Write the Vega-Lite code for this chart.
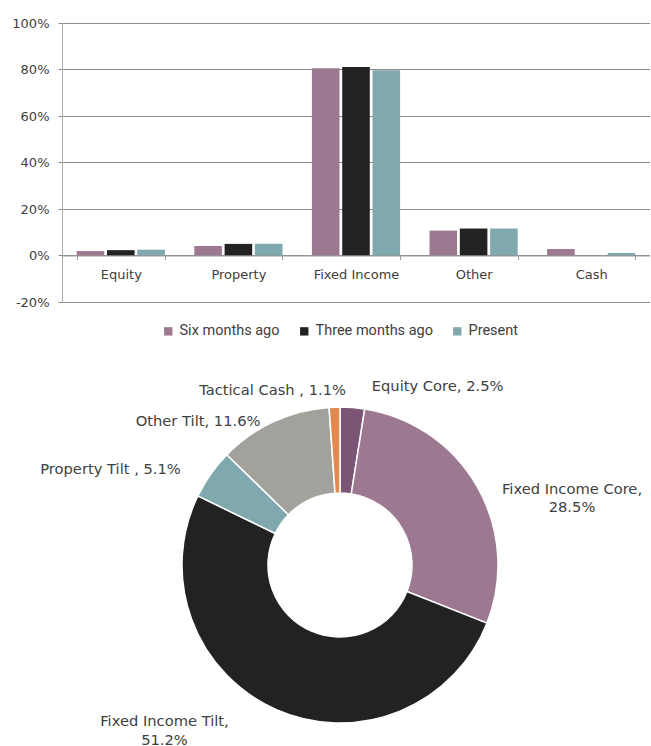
{
  "$schema": "https://vega.github.io/schema/vega-lite/v6.json",
  "padding": {"top": 17, "left": 11, "right": 0, "bottom": 0},
  "background": "white",
  "spacing": 38,
  "resolve": {"scale": {"color": "independent", "theta": "independent"}, "legend": {"color": "independent"}},
  "config": {"view": {"stroke": null}, "font": "DejaVu Sans"},
  "vconcat": [
    {
      "width": 588,
      "height": 279,
      "data": {"values": [
        {"asset": "Equity", "period": "Six months ago", "share": 0.019},
        {"asset": "Equity", "period": "Three months ago", "share": 0.023},
        {"asset": "Equity", "period": "Present", "share": 0.025},
        {"asset": "Property", "period": "Six months ago", "share": 0.041},
        {"asset": "Property", "period": "Three months ago", "share": 0.050},
        {"asset": "Property", "period": "Present", "share": 0.051},
        {"asset": "Fixed Income", "period": "Six months ago", "share": 0.805},
        {"asset": "Fixed Income", "period": "Three months ago", "share": 0.811},
        {"asset": "Fixed Income", "period": "Present", "share": 0.797},
        {"asset": "Other", "period": "Six months ago", "share": 0.107},
        {"asset": "Other", "period": "Three months ago", "share": 0.116},
        {"asset": "Other", "period": "Present", "share": 0.116},
        {"asset": "Cash", "period": "Six months ago", "share": 0.028},
        {"asset": "Cash", "period": "Three months ago", "share": 0.0},
        {"asset": "Cash", "period": "Present", "share": 0.011}
      ]},
      "mark": {"type": "bar"},
      "encoding": {
        "x": {
          "field": "asset", "type": "nominal",
          "sort": ["Equity", "Property", "Fixed Income", "Other", "Cash"],
          "scale": {"paddingInner": 0.25, "paddingOuter": 0.125},
          "axis": {"title": null, "offset": -46.5, "labelAngle": 0, "domainColor": "#999999", "tickColor": "#999999", "tickSize": 4, "tickBand": "extent", "labelPadding": 9, "labelFontSize": 13, "labelColor": "#404040", "zindex": 1}
        },
        "xOffset": {
          "field": "period", "type": "nominal",
          "sort": ["Six months ago", "Three months ago", "Present"],
          "scale": {"paddingInner": 0.09, "paddingOuter": 0}
        },
        "y": {
          "field": "share", "type": "quantitative",
          "scale": {"domain": [-0.2, 1], "nice": false},
          "axis": {"title": null, "format": ".0%", "labelExpr": "replace(datum.label, '\u2212', '-')", "values": [-0.2, 0, 0.2, 0.4, 0.6, 0.8, 1], "grid": true, "gridColor": "#8c8c8c", "domainColor": "#aaaaaa", "tickColor": "#8c8c8c", "tickSize": 4, "labelPadding": 9, "labelFontSize": 13, "labelColor": "#404040"}
        },
        "color": {
          "field": "period", "type": "nominal",
          "sort": ["Six months ago", "Three months ago", "Present"],
          "scale": {"domain": ["Six months ago", "Three months ago", "Present"], "range": ["#9c7891", "#222222", "#80a9af"]},
          "legend": {"title": null, "orient": "none", "legendX": 99, "legendY": 301, "direction": "horizontal", "symbolType": "square", "symbolSize": 70, "symbolStrokeWidth": 0, "labelFont": "Roboto", "labelFontSize": 14.5, "labelColor": "#404040", "columnPadding": 17, "labelOffset": 4}
        }
      }
    },
    {
      "width": 556,
      "height": 378,
      "data": {"values": [
        {"category": "Equity Core", "value": 2.5, "label": "Equity Core, 2.5%", "idx": 1},
        {"category": "Fixed Income Core", "value": 28.5, "label": "Fixed Income Core,\n28.5%", "idx": 2},
        {"category": "Fixed Income Tilt", "value": 51.2, "label": "Fixed Income Tilt,\n51.2%", "idx": 3},
        {"category": "Property Tilt ", "value": 5.1, "label": "Property Tilt , 5.1%", "idx": 4},
        {"category": "Other Tilt", "value": 11.6, "label": "Other Tilt, 11.6%", "idx": 5},
        {"category": "Tactical Cash ", "value": 1.1, "label": "Tactical Cash , 1.1%", "idx": 6}
      ]},
      "encoding": {
        "theta": {"field": "value", "type": "quantitative", "stack": true},
        "order": {"field": "idx", "type": "quantitative"},
        "detail": {"field": "category", "type": "nominal"}
      },
      "layer": [
        {
          "mark": {"type": "arc", "outerRadius": 158, "innerRadius": 72, "stroke": "white", "strokeWidth": 1.5},
          "encoding": {
            "color": {"field": "category", "type": "nominal",
              "scale": {"domain": ["Equity Core", "Fixed Income Core", "Fixed Income Tilt", "Property Tilt ", "Other Tilt", "Tactical Cash "], "range": ["#7b5575", "#9c7891", "#222222", "#80a9af", "#a3a19c", "#e08a4f"]},
              "legend": null}
          }
        },
        {
          "mark": {"type": "text", "radius": 175, "align": "left", "baseline": "middle", "dx": 18, "dy": -4, "font": "DejaVu Sans", "fontSize": 14.7, "fill": "#404040"},
          "encoding": {"text": {"condition": {"test": "datum.category === 'Equity Core'", "field": "label"}, "value": ""}}
        },
        {
          "mark": {"type": "text", "radius": 175, "align": "center", "baseline": "middle", "dx": 80, "dy": 12, "lineBreak": "\n", "lineHeight": 18, "font": "DejaVu Sans", "fontSize": 14.7, "fill": "#404040"},
          "encoding": {"text": {"condition": {"test": "datum.category === 'Fixed Income Core'", "field": "label"}, "value": ""}}
        },
        {
          "mark": {"type": "text", "radius": 175, "align": "center", "baseline": "middle", "dx": -105, "dy": -3, "lineBreak": "\n", "lineHeight": 19, "font": "DejaVu Sans", "fontSize": 14.7, "fill": "#404040"},
          "encoding": {"text": {"condition": {"test": "datum.category === 'Fixed Income Tilt'", "field": "label"}, "value": ""}}
        },
        {
          "mark": {"type": "text", "radius": 175, "align": "right", "baseline": "middle", "dx": -16, "dy": 6, "font": "DejaVu Sans", "fontSize": 14.7, "fill": "#404040"},
          "encoding": {"text": {"condition": {"test": "datum.category === 'Property Tilt '", "field": "label"}, "value": ""}}
        },
        {
          "mark": {"type": "text", "radius": 175, "align": "right", "baseline": "middle", "dx": -6, "dy": 16, "font": "DejaVu Sans", "fontSize": 14.7, "fill": "#404040"},
          "encoding": {"text": {"condition": {"test": "datum.category === 'Other Tilt'", "field": "label"}, "value": ""}}
        },
        {
          "mark": {"type": "text", "radius": 175, "align": "right", "baseline": "middle", "dx": 12, "dy": 1, "font": "DejaVu Sans", "fontSize": 14.7, "fill": "#404040"},
          "encoding": {"text": {"condition": {"test": "datum.category === 'Tactical Cash '", "field": "label"}, "value": ""}}
        }
      ]
    }
  ]
}
